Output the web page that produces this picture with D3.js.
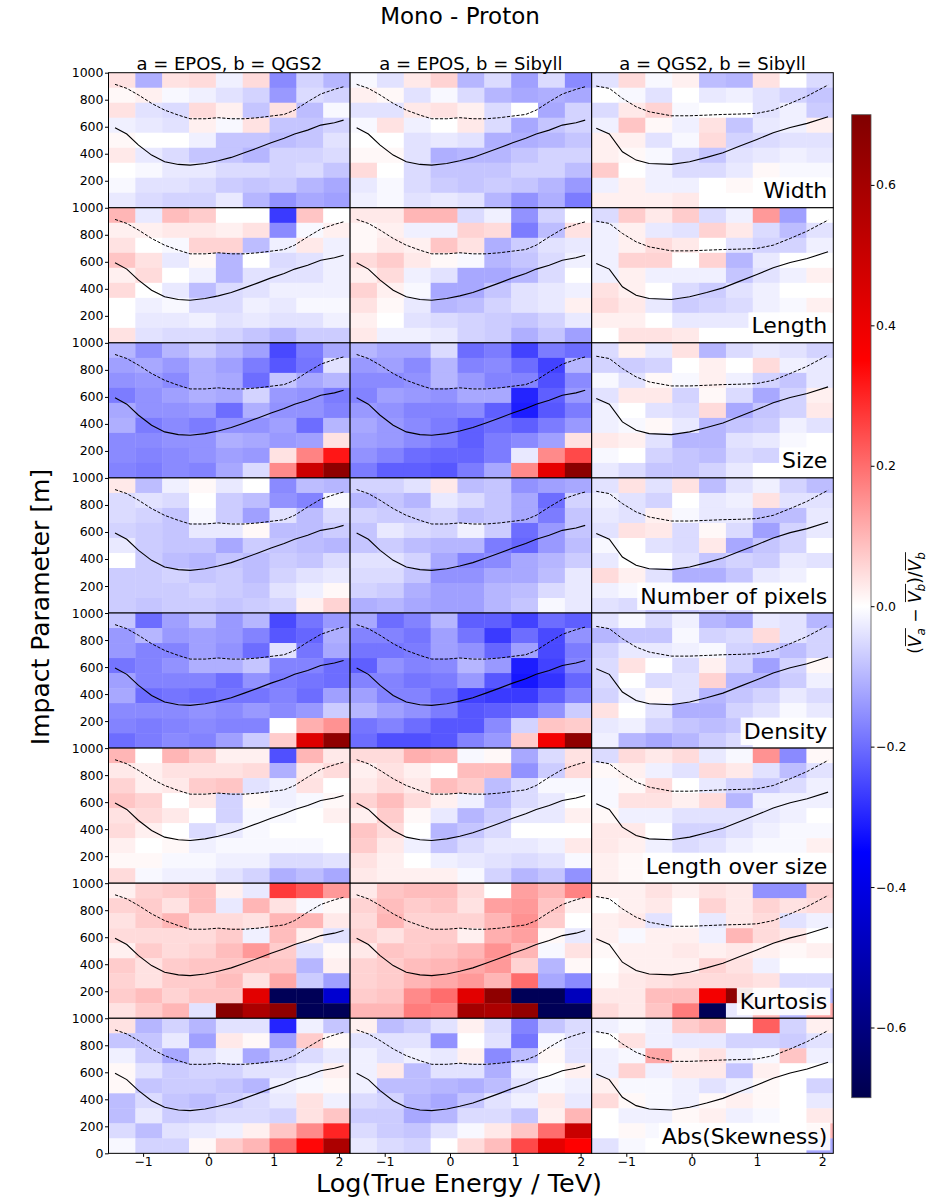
<!DOCTYPE html>
<html><head><meta charset="utf-8">
<script src="https://cdn.jsdelivr.net/npm/d3@7"></script>
<style>
body{margin:0;background:#fff}
svg{display:block;font-family:"DejaVu Sans",sans-serif}
</style>
</head><body>
<svg id="chart" width="931" height="1201"></svg>
<script>
// ---------- categories / axes ----------
const titleText = "Mono - Proton";
const comparisons = ["a = EPOS, b = QGS2", "a = EPOS, b = Sibyll", "a = QGS2, b = Sibyll"];
const variables = ["Width", "Length", "Size", "Number of pixels", "Density", "Length over size", "Kurtosis", "Abs(Skewness)"];
const energyRange = [-1.53, 2.17];      // log10(E/TeV) extent of the 9 energy bins
const impactRange = [0, 1000];          // impact parameter extent of the 9 distance bins [m]
const nEnergyBins = 9, nImpactBins = 9;
const xTicks = [-1, 0, 1, 2];
const yTicks = [0, 200, 400, 600, 800, 1000];
const colorDomain = [-0.7, 0.7];
const colorTicks = [-0.6, -0.4, -0.2, 0.0, 0.2, 0.4, 0.6];

// ---------- values: (Va - Vb)/Vb, each panel = 9 impact rows (top row = highest impact) x 9 energy bins ----------
const widthRel = [
 [[0.04,-0.11,0.04,0.05,-0.02,0.05,-0.16,-0.06,-0.10],
  [0.01,0.02,-0.01,-0.02,-0.04,-0.06,-0.14,-0.05,-0.06],
  [0.04,-0.04,-0.05,0.05,0.02,-0.08,0.04,-0.09,-0.01],
  [-0.02,-0.03,-0.04,0.02,-0.01,0.04,-0.08,-0.08,-0.06],
  [0.01,0.00,0.00,-0.02,-0.08,-0.08,-0.09,-0.08,-0.04],
  [0.03,-0.03,-0.05,-0.08,-0.08,-0.10,-0.06,-0.06,-0.05],
  [0.00,-0.01,-0.03,-0.03,-0.05,-0.05,-0.06,-0.05,-0.08],
  [-0.01,-0.04,-0.04,-0.05,-0.07,-0.08,-0.07,-0.10,-0.12],
  [-0.03,-0.05,-0.06,-0.06,-0.03,-0.10,-0.15,-0.12,-0.13]],
 [[-0.01,-0.04,0.03,0.06,-0.10,-0.05,-0.13,-0.05,-0.16],
  [0.02,0.01,-0.04,-0.01,-0.05,-0.10,-0.12,-0.11,-0.12],
  [-0.04,-0.04,0.03,0.04,0.02,-0.05,0.00,-0.12,-0.06],
  [-0.01,0.04,-0.02,0.00,0.03,-0.05,-0.12,-0.08,-0.06],
  [0.00,0.00,-0.04,-0.03,-0.04,-0.11,-0.11,-0.10,-0.08],
  [0.01,0.01,-0.04,-0.11,-0.10,-0.10,-0.08,-0.06,-0.06],
  [0.05,0.00,-0.05,-0.08,-0.08,-0.08,-0.06,-0.06,-0.09],
  [-0.03,-0.01,-0.05,-0.07,-0.08,-0.07,-0.08,-0.10,-0.14],
  [-0.02,-0.01,-0.04,-0.03,-0.04,-0.10,-0.15,-0.11,-0.18]],
 [[-0.04,0.05,-0.01,0.02,-0.09,-0.10,0.04,0.00,-0.05],
  [0.00,-0.01,-0.04,0.00,-0.03,-0.02,-0.04,-0.06,-0.08],
  [-0.05,0.03,0.06,-0.01,0.00,0.00,-0.04,-0.02,-0.07],
  [-0.02,0.08,0.01,-0.02,0.04,-0.08,-0.03,-0.02,0.02],
  [0.02,0.02,-0.04,-0.01,0.05,-0.06,-0.05,-0.04,-0.04],
  [0.02,0.01,-0.01,-0.05,-0.08,-0.04,-0.03,-0.02,-0.03],
  [0.07,0.00,-0.02,-0.05,-0.05,-0.03,0.01,-0.01,-0.01],
  [-0.02,0.02,-0.02,-0.02,0.00,0.01,0.00,0.00,0.00],
  [0.02,0.02,0.02,0.03,0.00,0.00,0.00,0.00,0.00]]
];
const lengthRel = [
 [[0.10,-0.03,0.09,0.07,0.00,0.00,-0.27,0.08,0.00],
  [0.02,0.02,0.03,0.03,0.02,0.04,-0.16,-0.01,0.02],
  [0.04,0.00,-0.01,0.06,0.06,-0.09,-0.02,0.03,-0.02],
  [0.08,0.04,-0.03,0.01,-0.10,0.00,-0.05,-0.04,-0.02],
  [0.02,0.05,0.00,-0.02,-0.10,-0.04,-0.04,-0.04,-0.02],
  [0.05,0.00,-0.03,-0.09,-0.05,-0.04,-0.02,-0.02,-0.02],
  [0.00,-0.02,-0.01,-0.05,-0.05,-0.02,-0.03,-0.01,-0.01],
  [0.00,-0.03,-0.03,-0.02,-0.04,-0.03,-0.04,-0.04,-0.02],
  [0.04,-0.04,-0.05,-0.05,-0.06,-0.08,-0.10,-0.07,-0.07]],
 [[0.03,0.03,0.10,0.10,-0.05,-0.02,-0.15,-0.06,0.00],
  [0.01,0.02,-0.02,-0.02,0.06,0.05,-0.18,-0.09,0.04],
  [0.01,0.03,0.02,0.08,0.04,-0.11,-0.07,-0.04,-0.03],
  [0.05,0.07,0.03,0.01,-0.01,-0.10,-0.08,-0.05,-0.02],
  [0.02,0.05,-0.02,-0.04,-0.12,-0.12,-0.10,-0.05,0.00],
  [0.06,0.02,-0.01,-0.12,-0.12,-0.08,-0.04,-0.03,-0.02],
  [0.04,0.01,-0.03,-0.10,-0.09,-0.06,-0.04,-0.03,0.02],
  [0.02,0.00,-0.04,-0.05,-0.06,-0.07,-0.08,-0.06,-0.03],
  [0.03,-0.02,-0.02,-0.03,-0.06,-0.07,-0.11,-0.08,-0.13]],
 [[-0.05,0.07,0.03,0.07,-0.05,-0.02,0.14,-0.13,0.00],
  [-0.02,0.02,-0.03,-0.04,0.06,0.03,-0.05,-0.09,-0.04],
  [-0.02,0.02,0.05,0.03,0.00,-0.04,-0.06,-0.06,-0.02],
  [-0.02,0.06,0.06,0.00,0.06,-0.10,-0.03,0.00,0.00],
  [-0.02,0.02,-0.02,-0.02,-0.02,-0.08,-0.04,-0.02,0.02],
  [0.04,0.02,0.00,-0.05,-0.07,-0.04,-0.02,0.00,0.00],
  [0.05,0.03,-0.03,-0.07,-0.06,-0.05,-0.02,-0.01,0.02],
  [0.02,0.02,0.00,-0.03,-0.03,-0.03,-0.02,0.00,0.00],
  [0.00,0.04,0.04,0.03,0.00,0.00,0.00,0.00,0.00]]
];
const sizeRel = [
 [[-0.10,-0.15,-0.10,-0.07,-0.10,-0.13,-0.25,-0.18,-0.12],
  [-0.13,-0.12,-0.14,-0.11,-0.13,-0.18,-0.23,-0.19,-0.04],
  [-0.15,-0.14,-0.16,-0.11,-0.12,-0.20,-0.08,-0.12,-0.10],
  [-0.18,-0.15,-0.13,-0.11,-0.12,-0.06,-0.14,-0.15,-0.18],
  [-0.12,-0.15,-0.15,-0.14,-0.20,-0.11,-0.15,-0.15,-0.17],
  [-0.11,-0.18,-0.16,-0.18,-0.15,-0.15,-0.13,-0.20,-0.10],
  [-0.16,-0.16,-0.15,-0.15,-0.11,-0.12,-0.14,-0.13,0.04],
  [-0.16,-0.17,-0.16,-0.15,-0.13,-0.14,0.04,0.17,0.32],
  [-0.17,-0.18,-0.16,-0.17,-0.12,-0.05,0.16,0.49,0.66]],
 [[-0.10,-0.12,-0.12,-0.05,-0.20,-0.18,-0.26,-0.18,-0.20],
  [-0.14,-0.13,-0.16,-0.10,-0.17,-0.16,-0.20,-0.26,-0.10],
  [-0.16,-0.16,-0.15,-0.10,-0.14,-0.17,-0.17,-0.24,-0.16],
  [-0.17,-0.13,-0.14,-0.15,-0.12,-0.12,-0.30,-0.22,-0.14],
  [-0.14,-0.15,-0.17,-0.17,-0.16,-0.22,-0.31,-0.23,-0.18],
  [-0.12,-0.14,-0.16,-0.18,-0.22,-0.20,-0.22,-0.18,-0.14],
  [-0.13,-0.14,-0.16,-0.18,-0.22,-0.18,-0.16,-0.13,0.04],
  [-0.15,-0.17,-0.20,-0.21,-0.21,-0.18,-0.03,0.16,0.25],
  [-0.18,-0.22,-0.22,-0.23,-0.18,-0.12,0.16,0.42,0.67]],
 [[-0.05,0.02,-0.03,0.04,-0.10,-0.05,-0.03,-0.04,-0.06],
  [-0.06,-0.07,-0.06,0.00,0.02,0.00,0.05,-0.02,-0.03],
  [-0.01,-0.04,0.01,-0.01,0.02,-0.02,-0.06,-0.08,-0.03],
  [-0.04,0.03,0.03,-0.06,0.01,-0.05,-0.12,-0.06,0.02],
  [-0.02,0.00,-0.04,-0.05,0.05,-0.12,-0.08,-0.06,0.03],
  [-0.02,-0.01,0.01,-0.03,-0.10,-0.08,-0.07,-0.02,-0.04],
  [0.03,0.02,-0.04,-0.10,-0.10,-0.04,-0.03,-0.01,0.00],
  [-0.01,0.00,-0.06,-0.08,-0.09,-0.05,-0.06,0.00,0.00],
  [-0.03,-0.05,-0.08,-0.08,-0.06,-0.03,0.00,0.00,0.00]]
];
const nPixelsRel = [
 [[0.03,-0.09,-0.02,0.01,-0.03,0.00,-0.16,-0.09,-0.10],
  [-0.05,-0.04,-0.05,0.00,-0.07,-0.09,-0.15,-0.17,-0.01],
  [-0.05,-0.06,-0.08,-0.01,-0.07,-0.13,-0.04,-0.09,-0.05],
  [-0.06,-0.07,-0.08,-0.03,-0.03,0.01,-0.09,-0.09,-0.07],
  [-0.03,-0.07,-0.08,-0.08,-0.12,-0.07,-0.08,-0.09,-0.10],
  [0.00,-0.07,-0.09,-0.10,-0.08,-0.09,-0.07,-0.08,-0.05],
  [-0.07,-0.07,-0.06,-0.08,-0.07,-0.09,-0.06,-0.04,-0.03],
  [-0.07,-0.07,-0.07,-0.06,-0.07,-0.08,-0.04,-0.02,0.01],
  [-0.07,-0.08,-0.07,-0.07,-0.08,-0.07,-0.06,0.02,0.06]],
 [[-0.06,-0.06,-0.04,0.03,-0.09,-0.08,-0.15,-0.13,-0.12],
  [-0.10,-0.08,-0.10,-0.03,-0.05,-0.08,-0.12,-0.20,-0.06],
  [-0.06,-0.07,-0.07,-0.06,-0.09,-0.08,-0.12,-0.18,-0.08],
  [-0.08,-0.03,-0.05,-0.06,-0.02,-0.07,-0.20,-0.14,-0.08],
  [-0.08,-0.07,-0.09,-0.10,-0.10,-0.18,-0.21,-0.14,-0.09],
  [-0.04,-0.04,-0.06,-0.12,-0.17,-0.16,-0.12,-0.10,-0.07],
  [-0.05,-0.05,-0.08,-0.15,-0.15,-0.12,-0.12,-0.09,-0.03],
  [-0.06,-0.07,-0.11,-0.13,-0.13,-0.10,-0.09,-0.05,-0.03],
  [-0.11,-0.10,-0.12,-0.13,-0.13,-0.10,-0.08,-0.01,-0.03]],
 [[-0.04,0.04,-0.04,0.04,-0.09,-0.04,-0.02,-0.06,-0.09],
  [-0.02,-0.04,-0.06,0.00,-0.03,-0.02,0.04,-0.04,-0.04],
  [-0.03,-0.04,0.02,-0.01,-0.03,-0.03,-0.09,-0.09,-0.03],
  [-0.04,0.04,0.03,-0.05,0.01,-0.05,-0.13,-0.06,-0.03],
  [-0.01,0.00,-0.04,-0.05,0.03,-0.12,-0.08,-0.06,0.00],
  [-0.03,0.00,0.00,-0.04,-0.08,-0.06,-0.07,-0.03,-0.04],
  [0.05,0.02,-0.04,-0.11,-0.11,-0.08,-0.03,-0.02,0.00],
  [-0.02,-0.01,-0.06,-0.08,-0.08,-0.06,0.00,0.00,0.00],
  [-0.04,-0.05,-0.08,-0.08,-0.06,-0.04,0.00,0.00,0.00]]
];
const densityRel = [
 [[-0.08,-0.20,-0.13,-0.09,-0.14,-0.10,-0.25,-0.19,-0.14],
  [-0.14,-0.10,-0.14,-0.13,-0.14,-0.17,-0.23,-0.21,-0.11],
  [-0.14,-0.17,-0.17,-0.13,-0.15,-0.20,-0.04,-0.19,-0.12],
  [-0.19,-0.17,-0.15,-0.11,-0.11,-0.08,-0.17,-0.17,-0.20],
  [-0.13,-0.17,-0.17,-0.17,-0.20,-0.15,-0.18,-0.19,-0.20],
  [-0.12,-0.20,-0.19,-0.20,-0.19,-0.19,-0.17,-0.20,-0.13],
  [-0.16,-0.16,-0.16,-0.15,-0.16,-0.14,-0.16,-0.14,-0.07],
  [-0.17,-0.18,-0.17,-0.16,-0.17,-0.17,0.00,0.11,0.15],
  [-0.20,-0.18,-0.16,-0.17,-0.13,-0.07,0.07,0.44,0.66]],
 [[-0.12,-0.20,-0.17,-0.10,-0.22,-0.22,-0.26,-0.20,-0.22],
  [-0.17,-0.17,-0.19,-0.13,-0.19,-0.27,-0.20,-0.25,-0.15],
  [-0.19,-0.19,-0.18,-0.13,-0.15,-0.21,-0.13,-0.25,-0.18],
  [-0.22,-0.15,-0.17,-0.16,-0.10,-0.14,-0.31,-0.26,-0.17],
  [-0.17,-0.17,-0.19,-0.18,-0.14,-0.23,-0.32,-0.28,-0.21],
  [-0.13,-0.17,-0.17,-0.20,-0.26,-0.27,-0.27,-0.22,-0.17],
  [-0.10,-0.13,-0.15,-0.18,-0.23,-0.22,-0.20,-0.15,-0.07],
  [-0.19,-0.17,-0.20,-0.23,-0.23,-0.16,-0.06,0.08,0.07],
  [-0.20,-0.24,-0.24,-0.23,-0.17,-0.14,0.07,0.38,0.66]],
 [[-0.04,-0.01,-0.05,-0.02,-0.10,-0.12,-0.03,-0.04,-0.10],
  [-0.10,-0.08,-0.08,-0.01,-0.06,-0.05,0.05,-0.04,-0.06],
  [-0.06,-0.03,-0.03,-0.02,-0.01,-0.06,-0.07,-0.09,-0.06],
  [-0.05,0.04,0.00,-0.05,0.02,-0.06,-0.13,-0.06,0.01],
  [-0.05,0.00,-0.05,-0.04,0.06,-0.10,-0.10,-0.07,-0.02],
  [-0.06,-0.02,0.01,-0.04,-0.10,-0.08,-0.06,-0.03,-0.05],
  [0.04,0.00,-0.04,-0.11,-0.11,-0.06,-0.04,-0.01,-0.03],
  [-0.03,-0.02,-0.06,-0.08,-0.09,-0.08,0.00,0.00,0.00],
  [-0.02,-0.10,-0.12,-0.10,-0.07,-0.05,0.00,0.00,0.00]]
];
const lengthOverSizeRel = [
 [[0.10,0.00,0.10,0.07,0.02,0.02,-0.24,0.10,0.03],
  [0.03,0.02,0.04,0.04,0.04,0.05,-0.11,0.03,0.05],
  [0.06,0.02,0.03,0.07,0.08,-0.04,-0.02,0.04,0.00],
  [0.08,0.06,0.00,0.03,-0.06,0.01,-0.02,-0.01,0.01],
  [0.04,0.05,0.03,0.00,-0.06,-0.01,-0.01,0.00,0.02],
  [0.05,0.02,0.00,-0.05,-0.03,-0.01,0.00,0.00,0.00],
  [0.02,0.00,0.01,-0.02,-0.01,-0.01,-0.01,-0.01,0.00],
  [0.01,0.01,-0.01,-0.01,-0.02,-0.02,-0.05,-0.05,-0.04],
  [0.05,-0.01,-0.02,-0.02,-0.04,-0.06,-0.11,-0.09,-0.12]],
 [[0.05,0.05,0.11,0.10,-0.01,0.01,-0.12,-0.05,0.04],
  [0.02,0.04,0.02,0.00,0.09,0.09,-0.15,-0.07,0.05],
  [0.03,0.05,0.03,0.09,0.07,-0.09,-0.05,-0.01,-0.01],
  [0.06,0.09,0.05,0.02,-0.02,-0.09,-0.05,-0.03,0.00],
  [0.02,0.07,0.01,-0.03,-0.10,-0.07,-0.03,-0.03,0.02],
  [0.08,0.05,0.00,-0.10,-0.08,-0.05,0.00,0.00,0.00],
  [0.07,0.03,-0.02,-0.08,-0.05,-0.03,-0.03,-0.02,0.03],
  [0.04,0.02,0.00,-0.02,-0.03,-0.04,-0.05,-0.04,-0.01],
  [0.03,0.02,0.02,0.02,-0.01,-0.06,-0.10,-0.08,-0.15]],
 [[-0.05,0.05,0.03,0.05,-0.03,-0.01,0.15,-0.16,0.01],
  [0.01,0.02,-0.02,-0.04,0.05,0.03,-0.04,-0.09,-0.04],
  [-0.01,0.01,0.05,0.00,-0.03,-0.06,-0.07,-0.05,-0.02],
  [-0.01,0.04,0.04,0.02,0.05,-0.10,-0.02,-0.02,-0.02],
  [0.01,-0.02,-0.02,-0.04,-0.04,-0.04,-0.03,-0.02,0.00],
  [0.03,0.03,0.00,-0.06,-0.06,-0.04,-0.02,-0.01,-0.01],
  [0.03,0.02,-0.02,-0.05,-0.04,-0.02,-0.01,-0.01,0.02],
  [0.02,0.01,-0.01,-0.02,-0.01,0.00,0.00,0.00,0.00],
  [0.02,0.01,0.00,0.00,0.00,0.00,0.00,0.00,0.00]]
];
const kurtosisRel = [
 [[0.02,0.06,0.07,0.09,0.02,-0.03,0.27,0.23,0.14],
  [0.06,0.07,0.04,0.09,-0.03,0.10,0.04,-0.01,0.01],
  [0.04,0.07,0.10,0.05,0.05,0.04,0.10,0.10,0.03],
  [0.05,0.05,0.05,0.05,0.07,-0.02,0.09,0.02,-0.04],
  [0.02,0.07,0.05,0.06,0.09,0.14,0.07,-0.04,0.01],
  [0.07,0.04,0.07,0.08,0.08,0.08,0.08,-0.10,0.02],
  [0.06,0.04,0.07,0.07,0.09,0.04,0.12,-0.07,-0.13],
  [0.07,0.09,0.06,0.08,0.08,0.43,-0.68,-0.68,-0.44],
  [0.04,0.07,0.10,-0.04,0.68,0.58,0.66,-0.68,-0.68]],
 [[0.03,0.08,0.09,0.09,0.05,0.00,0.13,0.10,0.17],
  [0.06,0.09,0.07,0.08,0.04,0.13,0.14,0.08,0.02],
  [0.05,0.10,0.06,0.06,0.06,0.10,0.15,0.07,0.00],
  [0.06,0.04,0.07,0.07,0.02,0.11,0.13,0.01,-0.03],
  [0.03,0.08,0.07,0.08,0.10,0.15,0.10,-0.01,0.04],
  [0.06,0.07,0.09,0.10,0.12,0.14,0.06,-0.10,0.01],
  [0.06,0.07,0.10,0.12,0.14,0.10,0.20,-0.12,-0.16],
  [0.07,0.08,0.16,0.20,0.43,0.66,-0.68,-0.68,-0.48],
  [0.10,0.10,0.18,0.17,0.60,0.58,0.65,-0.68,-0.68]],
 [[0.02,0.02,0.04,0.02,0.04,0.03,-0.15,-0.15,0.06],
  [0.00,0.02,0.03,0.00,0.06,0.03,0.06,0.04,0.05],
  [0.02,0.03,-0.04,0.00,-0.03,0.03,0.05,-0.04,-0.02],
  [0.02,-0.01,0.02,0.02,-0.02,0.10,0.05,0.03,0.00],
  [0.01,0.02,0.02,0.03,0.02,0.03,0.02,0.01,0.02],
  [0.00,0.02,0.02,0.02,0.06,0.04,-0.02,0.00,0.00],
  [0.01,0.03,0.04,0.05,0.05,0.05,0.04,-0.05,-0.05],
  [0.03,0.03,0.09,0.09,0.38,0.66,0.05,0.02,-0.10],
  [0.05,0.03,0.08,0.18,-0.68,-0.03,0.10,-0.10,0.12]]
];
const absSkewnessRel = [
 [[0.04,-0.10,-0.06,-0.10,-0.04,-0.04,-0.30,-0.02,-0.08],
  [-0.08,-0.08,-0.03,-0.13,0.03,0.01,-0.13,0.07,0.01],
  [-0.02,-0.07,-0.12,-0.05,-0.02,-0.12,-0.07,-0.05,-0.03],
  [0.01,-0.04,-0.07,-0.06,-0.06,-0.04,-0.04,-0.02,0.02],
  [0.01,-0.08,-0.07,-0.07,-0.08,-0.10,-0.02,-0.01,0.01],
  [-0.09,-0.05,-0.08,-0.09,-0.07,-0.05,-0.03,0.04,-0.02],
  [-0.09,-0.03,-0.07,-0.06,-0.05,-0.05,-0.06,0.04,0.08],
  [-0.05,-0.09,-0.04,-0.03,-0.02,0.02,0.08,0.16,0.30],
  [-0.01,-0.06,-0.06,0.01,0.07,0.10,0.20,0.34,0.58]],
 [[0.02,-0.09,-0.07,-0.04,0.02,-0.05,-0.17,-0.08,-0.05],
  [-0.04,-0.04,-0.04,-0.15,0.00,-0.04,-0.19,-0.01,-0.04],
  [-0.02,-0.04,-0.02,-0.03,0.02,-0.16,-0.09,0.01,-0.04],
  [-0.02,0.03,-0.09,-0.04,-0.04,-0.11,-0.02,0.00,0.02],
  [-0.02,-0.09,-0.09,-0.10,-0.11,-0.09,-0.04,-0.01,-0.02],
  [-0.05,-0.06,-0.10,-0.12,-0.08,-0.04,-0.02,0.03,-0.03],
  [-0.07,-0.07,-0.12,-0.10,-0.05,-0.05,-0.08,0.02,0.10],
  [-0.05,-0.07,-0.08,-0.04,-0.01,0.03,0.08,0.20,0.50],
  [-0.03,-0.05,-0.06,0.00,0.05,0.09,0.25,0.42,0.35]],
 [[-0.02,-0.01,-0.02,0.07,0.09,0.00,0.22,-0.06,0.02],
  [0.00,0.04,-0.02,-0.03,-0.03,-0.06,-0.06,-0.07,-0.04],
  [-0.02,-0.01,0.12,0.02,0.04,-0.02,-0.01,0.08,-0.02],
  [-0.02,0.06,-0.02,0.03,0.03,-0.08,0.02,0.00,0.00],
  [0.02,-0.01,-0.01,-0.02,-0.04,-0.02,0.01,0.00,-0.06],
  [0.05,0.01,-0.01,-0.02,0.01,0.02,0.01,0.00,-0.03],
  [0.00,-0.02,-0.02,0.01,0.02,-0.02,-0.01,0.00,0.03],
  [0.00,0.01,-0.01,0.02,0.03,0.00,0.00,0.00,0.10],
  [-0.04,-0.01,0.00,0.00,0.00,0.00,0.00,0.00,-0.12]]
];
const panelValues = [widthRel, lengthRel, sizeRel, nPixelsRel, densityRel, lengthOverSizeRel, kurtosisRel, absSkewnessRel];

// ---------- reference curves (impact parameter vs log energy) ----------
const curveEposX      = [-1.43,-1.25,-1.07,-0.87,-0.67,-0.46,-0.28,-0.05,0.15,0.35,0.55,0.76,0.96,1.16,1.32,1.52,1.72,1.93,2.07];
const curveEposSolid  = [593,546,464,390,341,321,316,328,348,373,407,444,481,514,546,575,612,630,649];
const curveEposDashed = [914,884,835,773,723,686,659,659,667,659,659,667,679,691,723,785,842,877,896];
const curveQgsX       = [-1.46,-1.26,-1.06,-0.85,-0.65,-0.31,-0.03,0.23,0.48,0.74,1.00,1.25,1.51,1.77,2.09];
const curveQgsSolid   = [588,546,415,353,328,321,341,373,407,457,506,556,595,625,674];
const curveQgsDashed  = [901,884,810,748,711,681,681,686,691,694,699,723,773,827,909];
const panelCurves = [
  {x: curveEposX, solid: curveEposSolid, dashed: curveEposDashed},
  {x: curveEposX, solid: curveEposSolid, dashed: curveEposDashed},
  {x: curveQgsX,  solid: curveQgsSolid,  dashed: curveQgsDashed}
];

// ---------- layout ----------
const svg = d3.select("#chart");
const leftM = 108.5, topM = 72.7, pw = 241.6, ph = 135.08;
const nCols = comparisons.length, nRows = variables.length;

const xS = d3.scaleLinear().domain(energyRange).range([0, pw]);
const yS = d3.scaleLinear().domain(impactRange).range([ph, 0]);
const color = d3.scaleLinear()
  .domain([-0.7, -0.35, 0, 0.35, 0.7])
  .range(["rgb(0,0,77)", "rgb(0,0,255)", "rgb(255,255,255)", "rgb(255,0,0)", "rgb(128,0,0)"])
  .clamp(true);

const eStep = (energyRange[1] - energyRange[0]) / nEnergyBins;
const iStep = (impactRange[1] - impactRange[0]) / nImpactBins;

const defs = svg.append("defs");

for (let r = 0; r < nRows; r++) {
  for (let c = 0; c < nCols; c++) {
    const g = svg.append("g").attr("transform", `translate(${leftM + c * pw},${topM + r * ph})`);
    const clipId = `clip-${r}-${c}`;
    defs.append("clipPath").attr("id", clipId).append("rect").attr("width", pw).attr("height", ph);
    const inner = g.append("g").attr("clip-path", `url(#${clipId})`);
    const grid = panelValues[r][c];
    const cells = [];
    grid.forEach((row, ri) => row.forEach((v, ci) => {
      const hi = impactRange[1] - ri * iStep, lo = hi - iStep;
      const e0 = energyRange[0] + ci * eStep, e1 = e0 + eStep;
      cells.push({v, e0, e1, lo, hi});
    }));
    inner.selectAll("rect.cell").data(cells).join("rect")
      .attr("class", "cell")
      .attr("x", d => xS(d.e0))
      .attr("y", d => yS(d.hi))
      .attr("width", d => xS(d.e1) - xS(d.e0) + 0.4)
      .attr("height", d => yS(d.lo) - yS(d.hi) + 0.4)
      .attr("fill", d => color(d.v));

    const cv = panelCurves[c];
    const line = d3.line().x(d => xS(d[0])).y(d => yS(d[1]));
    inner.append("path").datum(cv.x.map((e, i) => [e, cv.solid[i]]))
      .attr("d", line).attr("fill", "none").attr("stroke", "#000").attr("stroke-width", 1.1);
    inner.append("path").datum(cv.x.map((e, i) => [e, cv.dashed[i]]))
      .attr("d", line).attr("fill", "none").attr("stroke", "#000").attr("stroke-width", 1)
      .attr("stroke-dasharray", "3.2,1.6");

    if (c === nCols - 1) {
      const lg = inner.append("g");
      const bg = lg.append("rect").attr("fill", "#fff").attr("fill-opacity", 0.92);
      const t = lg.append("text").attr("x", pw - 6).attr("y", ph - 9.5)
        .attr("text-anchor", "end").attr("font-size", 22).attr("fill", "#000")
        .text(variables[r]);
      const bb = t.node().getBBox();
      bg.attr("x", bb.x - 3).attr("y", bb.y - 1).attr("width", bb.width + 6).attr("height", bb.height + 2.5);
    }

    g.append("rect").attr("width", pw).attr("height", ph)
      .attr("fill", "none").attr("stroke", "#000").attr("stroke-width", 1);

    if (c === 0) {
      const ticks = r === nRows - 1 ? yTicks : yTicks.filter(t => t > 0);
      g.append("g").call(d3.axisLeft(yS).tickValues(ticks).tickSize(3.5).tickPadding(1.5).tickFormat(d3.format("d")))
        .call(a => a.select(".domain").remove())
        .call(a => a.selectAll("text").attr("font-size", 12.5).attr("font-family", "DejaVu Sans").attr("fill", "#000"));
    }
    if (r === nRows - 1) {
      g.append("g").attr("transform", `translate(0,${ph})`)
        .call(d3.axisBottom(xS).tickValues(xTicks).tickSize(3.5).tickPadding(0).tickFormat(d3.format("d")))
        .call(a => a.select(".domain").remove())
        .call(a => a.selectAll("text").attr("font-size", 12.5).attr("font-family", "DejaVu Sans").attr("fill", "#000"));
    }
    if (r === 0) {
      svg.append("text").attr("x", leftM + c * pw + pw / 2).attr("y", 70)
        .attr("text-anchor", "middle").attr("font-size", 18).text(comparisons[c]);
    }
  }
}

// titles
svg.append("text").attr("x", 460).attr("y", 24).attr("text-anchor", "middle")
  .attr("font-size", 23).text(titleText);
svg.append("text").attr("x", 459).attr("y", 1192).attr("text-anchor", "middle")
  .attr("font-size", 25.5).text("Log(True Energy / TeV)");
svg.append("text").attr("transform", "translate(49,607) rotate(-90)").attr("text-anchor", "middle")
  .attr("font-size", 25).text("Impact Parameter [m]");

// ---------- colorbar ----------
const cbX = 851.7, cbTop = 114.7, cbW = 19.3, cbH = 983;
const cScale = d3.scaleLinear().domain(colorDomain).range([cbTop + cbH, cbTop]);
const grad = defs.append("linearGradient").attr("id", "cbgrad")
  .attr("x1", 0).attr("y1", 1).attr("x2", 0).attr("y2", 0);
color.domain().forEach(v => {
  grad.append("stop").attr("offset", (v - colorDomain[0]) / (colorDomain[1] - colorDomain[0]))
    .attr("stop-color", color(v));
});
svg.append("rect").attr("x", cbX).attr("y", cbTop).attr("width", cbW).attr("height", cbH)
  .attr("fill", "url(#cbgrad)").attr("stroke", "#555").attr("stroke-width", 0.8);
svg.append("g").attr("transform", `translate(${cbX + cbW},0)`)
  .call(d3.axisRight(cScale).tickValues(colorTicks).tickSize(3.5).tickPadding(1.5).tickFormat(d3.format(".1f")))
  .call(a => a.select(".domain").remove())
  .call(a => a.selectAll("text").attr("font-size", 12.5).attr("font-family", "DejaVu Sans").attr("fill", "#000"));

// colorbar label: (V̄a − V̄b)/V̄b
const cl = svg.append("g").attr("transform", "translate(921,603) rotate(-90)");
const ct = cl.append("text").attr("font-size", 17).attr("fill", "#000");
const pieces = [
  {t: "(", it: false, sub: false},
  {t: "V", it: true, sub: false},
  {t: "a", it: true, sub: true},
  {t: " \u2212 ", it: false, sub: false},
  {t: "V", it: true, sub: false},
  {t: "b", it: true, sub: true},
  {t: ")/", it: false, sub: false},
  {t: "V", it: true, sub: false},
  {t: "b", it: true, sub: true}
];
let prevSub = false;
pieces.forEach(p => {
  const ts = ct.append("tspan").text(p.t)
    .attr("font-style", p.it ? "italic" : "normal")
    .attr("font-size", p.sub ? 12 : 17);
  if (p.sub && !prevSub) ts.attr("dy", 4);
  if (!p.sub && prevSub) ts.attr("dy", -4);
  prevSub = p.sub;
});
const total = ct.node().getComputedTextLength();
ct.attr("x", -total / 2);
const node = ct.node();
const overIdx = [[1, 2], [6, 7], [10, 11]];
overIdx.forEach(([i0, i1]) => {
  const a = node.getExtentOfChar(i0), b = node.getExtentOfChar(i1);
  cl.append("line").attr("x1", a.x + 1).attr("x2", b.x + b.width)
    .attr("y1", -15.5).attr("y2", -15.5).attr("stroke", "#000").attr("stroke-width", 0.9);
});
</script>
</body></html>
